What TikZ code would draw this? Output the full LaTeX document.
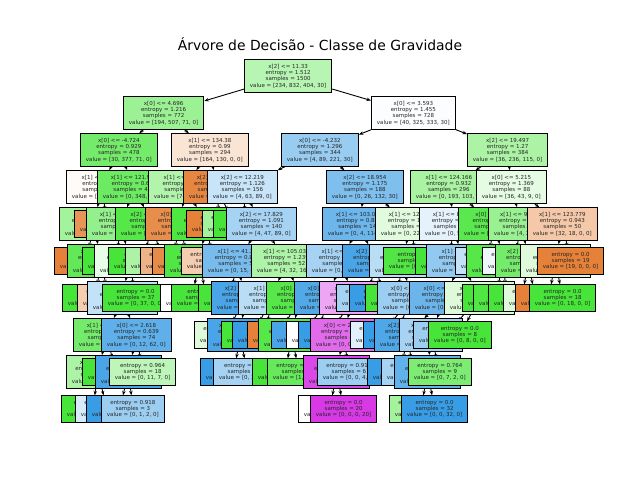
\documentclass[tikz,border=0pt]{standalone}
\usepackage{fontspec}
\setmainfont{DejaVu Sans}
\definecolor{mOrange}{HTML}{E58139}
\definecolor{mGreen}{HTML}{47E539}
\definecolor{mBlue}{HTML}{399DE5}
\definecolor{mViolet}{HTML}{D739E5}
\usepackage{tikz}
\usetikzlibrary{arrows.meta,backgrounds}
\tikzset{
  splitBox/.style={draw=black, line width=0.9pt, anchor=west, align=center,
    inner xsep=5.5pt, inner ysep=4.6pt, text=black!85, font=\fontsize{5.5}{6.2}\selectfont},
  treeArrow/.style={-{Stealth[length=4.5pt,width=3.4pt]}, line width=0.9pt},
  chartTitle/.style={anchor=base, font=\fontsize{13.9}{16}\selectfont}
}
\begin{document}
\begin{tikzpicture}[x=1pt, y=-1pt]
\useasboundingbox (0,0) rectangle (640,480);
\node[chartTitle] (title) at (320,50) {Árvore de Decisão - Classe de Gravidade};
% depth 0 - 2
\node[splitBox, fill=mGreen!39] (d0a) at (244,76) {x[2] <= 11.33\\entropy = 1.512\\samples = 1500\\value = [234, 832, 404, 30]};
\node[splitBox, fill=mGreen!54] (d1a) at (123,113) {x[0] <= 4.696\\entropy = 1.216\\samples = 772\\value = [194, 507, 71, 0]};
\node[splitBox, fill=mBlue!2] (d1b) at (371,113) {x[0] <= 3.593\\entropy = 1.455\\samples = 728\\value = [40, 325, 333, 30]};
\node[splitBox, fill=mGreen!75] (d2a) at (80,150) {x[0] <= -4.724\\entropy = 0.929\\samples = 478\\value = [30, 377, 71, 0]};
\node[splitBox, fill=mOrange!21] (d2b) at (171,150) {x[1] <= 134.38\\entropy = 0.99\\samples = 294\\value = [164, 130, 0, 0]};
\node[splitBox, fill=mBlue!52] (d2c) at (281,150) {x[0] <= -4.232\\entropy = 1.296\\samples = 344\\value = [4, 89, 221, 30]};
\node[splitBox, fill=mGreen!45] (d2d) at (467,150) {x[2] <= 19.497\\entropy = 1.27\\samples = 384\\value = [36, 236, 115, 0]};
% depth 3
\node[splitBox, fill=mOrange!3] (d3a) at (66,187) {x[1] <= 93.25\\entropy = 1.0\\samples = 59\\value = [30, 29, 0, 0]};
\node[splitBox, fill=mGreen!80] (d3b) at (97,187) {x[1] <= 121.906\\entropy = 0.656\\samples = 419\\value = [0, 348, 71, 0]};
\node[splitBox, fill=mGreen!42] (d3c) at (148,187) {x[1] <= 102.51\\entropy = 0.948\\samples = 202\\value = [74, 128, 0, 0]};
\node[splitBox, fill=mOrange!96] (d3d) at (183,187) {x[2] <= 6.742\\entropy = 0.151\\samples = 92\\value = [90, 2, 0, 0]};
\node[splitBox, fill=mBlue!28] (d3e) at (207,187) {x[2] <= 12.219\\entropy = 1.126\\samples = 156\\value = [4, 63, 89, 0]};
\node[splitBox, fill=mBlue!65] (d3f) at (326,187) {x[2] <= 18.954\\entropy = 1.175\\samples = 188\\value = [0, 26, 132, 30]};
\node[splitBox, fill=mGreen!47] (d3g) at (410,187) {x[1] <= 124.166\\entropy = 0.932\\samples = 296\\value = [0, 193, 103, 0]};
\node[splitBox, fill=mGreen!14] (d3h) at (476,187) {x[0] <= 5.215\\entropy = 1.369\\samples = 88\\value = [36, 43, 9, 0]};
% depth 4
\node[splitBox, fill=mGreen!50] (d4a) at (59,224) {x[0] <= -6.104\\entropy = 0.863\\samples = 35\\value = [10, 25, 0, 0]};
\node[splitBox, fill=mOrange!85] (d4b) at (74,224) {entropy = 0.65\\samples = 24\\value = [20, 4, 0, 0]};
\node[splitBox, fill=mGreen!58] (d4c) at (86,224) {x[1] <= 98.217\\entropy = 0.943\\samples = 125\\value = [0, 80, 45, 0]};
\node[splitBox, fill=mGreen!92] (d4d) at (115,224) {x[2] <= 10.835\\entropy = 0.431\\samples = 294\\value = [0, 268, 26, 0]};
\node[splitBox, fill=mOrange!90] (d4e) at (145,224) {x[0] <= 1.352\\entropy = 0.764\\samples = 90\\value = [70, 20, 0, 0]};
\node[splitBox, fill=mGreen!96] (d4f) at (171,224) {x[0] <= -2.817\\entropy = 0.222\\samples = 112\\value = [4, 108, 0, 0]};
\node[splitBox, fill=mOrange] (d4g) at (186,224) {entropy = 0.0\\samples = 89\\value = [89, 0, 0, 0]};
\node[splitBox, fill=mGreen!50] (d4h) at (202,224) {entropy = 0.918\\samples = 3\\value = [1, 2, 0, 0]};
\node[splitBox, fill=mGreen] (d4i) at (213,224) {entropy = 0.0\\samples = 16\\value = [0, 16, 0, 0]};
\node[splitBox, fill=mBlue!45] (d4j) at (226,224) {x[2] <= 17.829\\entropy = 1.091\\samples = 140\\value = [4, 47, 89, 0]};
\node[splitBox, fill=mBlue!74] (d4k) at (322,224) {x[1] <= 103.012\\entropy = 0.881\\samples = 145\\value = [0, 4, 114, 27]};
\node[splitBox, fill=mGreen!16] (d4l) at (375,224) {x[1] <= 128.44\\entropy = 1.274\\samples = 43\\value = [0, 22, 18, 3]};
\node[splitBox, fill=mBlue!13] (d4m) at (419,224) {x[1] <= 86.503\\entropy = 0.996\\samples = 125\\value = [0, 58, 67, 0]};
\node[splitBox, fill=mGreen!90] (d4n) at (458,224) {x[0] <= 4.021\\entropy = 0.743\\samples = 171\\value = [0, 135, 36, 0]};
\node[splitBox, fill=mGreen!55] (d4o) at (488,224) {x[1] <= 96.337\\entropy = 1.275\\samples = 38\\value = [4, 25, 9, 0]};
\node[splitBox, fill=mOrange!44] (d4p) at (527,224) {x[1] <= 123.779\\entropy = 0.943\\samples = 50\\value = [32, 18, 0, 0]};
% depth 5
\node[splitBox, fill=mOrange] (d5a) at (54,261) {entropy = 0.0\\samples = 9\\value = [9, 0, 0, 0]};
\node[splitBox, fill=mGreen!85] (d5b) at (67,261) {x[2] <= 8.116\\entropy = 0.235\\samples = 26\\value = [1, 25, 0, 0]};
\node[splitBox, fill=mGreen] (d5c) at (82,261) {entropy = 0.0\\samples = 30\\value = [0, 30, 0, 0]};
\node[splitBox, fill=mGreen!12] (d5d) at (94,261) {x[0] <= 0.731\\entropy = 0.998\\samples = 95\\value = [0, 50, 45, 0]};
\node[splitBox, fill=mGreen] (d5e) at (108,261) {entropy = 0.0\\samples = 150\\value = [0, 150, 0, 0]};
\node[splitBox, fill=mGreen!45] (d5f) at (125,261) {entropy = 0.685\\samples = 144\\value = [0, 118, 26, 0]};
\node[splitBox, fill=mOrange!60] (d5g) at (140,261) {entropy = 0.811\\samples = 8\\value = [6, 2, 0, 0]};
\node[splitBox, fill=mOrange!92] (d5h) at (152,261) {entropy = 0.759\\samples = 82\\value = [64, 18, 0, 0]};
\node[splitBox, fill=mGreen!95] (d5i) at (164,261) {x[1] <= 88.19\\entropy = 0.084\\samples = 106\\value = [1, 105, 0, 0]};
\node[splitBox, fill=mOrange!40] (d5j) at (181,261) {entropy = 0.918\\samples = 6\\value = [4, 2, 0, 0]};
\node[splitBox, fill=mBlue!68] (d5k) at (202,261) {x[1] <= 41.25\\entropy = 0.825\\samples = 58\\value = [0, 15, 43, 0]};
\node[splitBox, fill=mGreen!44] (d5l) at (251,261) {x[1] <= 105.036\\entropy = 1.239\\samples = 52\\value = [4, 32, 16, 0]};
\node[splitBox, fill=mBlue!45] (d5m) at (306,261) {x[1] <= 88.64\\entropy = 1.241\\samples = 62\\value = [0, 3, 38, 21]};
\node[splitBox, fill=mBlue!92] (d5n) at (342,261) {x[2] <= 21.37\\entropy = 0.545\\samples = 83\\value = [0, 1, 76, 6]};
\node[splitBox, fill=mBlue!35] (d5o) at (369,261) {x[0] <= -1.28\\entropy = 0.592\\samples = 21\\value = [0, 0, 18, 3]};
\node[splitBox, fill=mGreen!95] (d5p) at (383,261) {entropy = 0.0\\samples = 22\\value = [0, 22, 0, 0]};
\node[splitBox, fill=mGreen] (d5q) at (415,261) {entropy = 0.0\\samples = 41\\value = [0, 41, 0, 0]};
\node[splitBox, fill=mBlue!55] (d5r) at (426,261) {x[1] <= 71.82\\entropy = 0.728\\samples = 84\\value = [0, 17, 67, 0]};
\node[splitBox, fill=mBlue!30] (d5s) at (455,261) {entropy = 0.971\\samples = 10\\value = [0, 4, 6, 0]};
\node[splitBox, fill=mGreen!92] (d5t) at (466,261) {x[2] <= 20.42\\entropy = 0.646\\samples = 161\\value = [0, 131, 30, 0]};
\node[splitBox, fill=mBlue!8] (d5u) at (482,261) {entropy = 0.991\\samples = 9\\value = [0, 4, 5, 0]};
\node[splitBox, fill=mGreen!75] (d5v) at (495,261) {x[2] <= 22.905\\entropy = 0.896\\samples = 29\\value = [4, 21, 4, 0]};
\node[splitBox, fill=mGreen!18] (d5w) at (520,261) {x[0] <= 6.88\\entropy = 0.981\\samples = 31\\value = [13, 18, 0, 0]};
\node[splitBox, fill=mOrange] (d5x) at (537,261) {entropy = 0.0\\samples = 19\\value = [19, 0, 0, 0]};
% depth 6
\node[splitBox, fill=mGreen] (d6a) at (62,298) {entropy = 0.0\\samples = 25\\value = [0, 25, 0, 0]};
\node[splitBox, fill=mOrange!40] (d6b) at (77,298) {entropy = 0.918\\samples = 3\\value = [2, 1, 0, 0]};
\node[splitBox, fill=mBlue!30] (d6c) at (87,298) {x[2] <= 9.421\\entropy = 0.929\\samples = 58\\value = [0, 20, 38, 0]};
\node[splitBox, fill=mGreen] (d6d) at (102,298) {entropy = 0.0\\samples = 37\\value = [0, 37, 0, 0]};
\node[splitBox, fill=white] (d6e) at (160,298) {entropy = 1.0\\samples = 2\\value = [1, 1, 0, 0]};
\node[splitBox, fill=mGreen] (d6f) at (171,298) {entropy = 0.0\\samples = 104\\value = [0, 104, 0, 0]};
\node[splitBox, fill=mGreen] (d6g) at (198,298) {entropy = 0.0\\samples = 7\\value = [0, 7, 0, 0]};
\node[splitBox, fill=mBlue!92] (d6h) at (211,298) {x[2] <= 14.58\\entropy = 0.627\\samples = 51\\value = [0, 8, 43, 0]};
\node[splitBox, fill=mBlue!35] (d6i) at (238,298) {x[1] <= 97.4\\entropy = 1.281\\samples = 25\\value = [3, 7, 15, 0]};
\node[splitBox, fill=mGreen!92] (d6j) at (266,298) {x[0] <= -0.56\\entropy = 0.629\\samples = 27\\value = [1, 25, 1, 0]};
\node[splitBox, fill=mBlue!88] (d6k) at (294,298) {x[0] <= 1.076\\entropy = 0.702\\samples = 37\\value = [0, 2, 34, 1]};
\node[splitBox, fill=mViolet!45] (d6l) at (319,298) {x[2] <= 24.1\\entropy = 0.918\\samples = 25\\value = [0, 1, 4, 20]};
\node[splitBox, fill=mBlue!45] (d6m) at (336,298) {entropy = 0.918\\samples = 3\\value = [0, 1, 2, 0]};
\node[splitBox, fill=mBlue] (d6n) at (349,298) {entropy = 0.0\\samples = 40\\value = [0, 0, 40, 0]};
\node[splitBox, fill=mGreen] (d6o) at (365,298) {entropy = 0.0\\samples = 5\\value = [0, 5, 0, 0]};
\node[splitBox, fill=mBlue!50] (d6p) at (377,298) {x[0] <= 0.945\\entropy = 0.985\\samples = 21\\value = [0, 0, 12, 9]};
\node[splitBox, fill=mBlue!75] (d6q) at (409,298) {x[0] <= -2.364\\entropy = 0.695\\samples = 59\\value = [0, 11, 48, 0]};
\node[splitBox, fill=mGreen!18] (d6r) at (444,298) {x[1] <= 78.03\\entropy = 0.943\\samples = 25\\value = [0, 14, 11, 0]};
\node[splitBox, fill=mGreen] (d6s) at (462,298) {entropy = 0.0\\samples = 96\\value = [0, 96, 0, 0]};
\node[splitBox, fill=mGreen!95] (d6t) at (473,298) {entropy = 0.0\\samples = 35\\value = [0, 35, 0, 0]};
\node[splitBox, fill=mGreen] (d6u) at (488,298) {entropy = 0.0\\samples = 14\\value = [0, 14, 0, 0]};
\node[splitBox, fill=mGreen!18] (d6v) at (503,298) {entropy = 1.362\\samples = 15\\value = [4, 7, 4, 0]};
\node[splitBox, fill=mOrange] (d6w) at (515,298) {entropy = 0.0\\samples = 13\\value = [13, 0, 0, 0]};
\node[splitBox, fill=mGreen] (d6x) at (529,298) {entropy = 0.0\\samples = 18\\value = [0, 18, 0, 0]};
% depth 7
\node[splitBox, fill=mGreen!75] (d7a) at (73,335) {x[1] <= 77.95\\entropy = 0.811\\samples = 20\\value = [0, 15, 5, 0]};
\node[splitBox, fill=mBlue!81] (d7b) at (101,335) {x[0] <= 2.618\\entropy = 0.639\\samples = 74\\value = [0, 12, 62, 0]};
\node[splitBox, fill=mGreen!18] (d7c) at (194,335) {entropy = 0.985\\samples = 7\\value = [0, 4, 3, 0]};
\node[splitBox, fill=mBlue!92] (d7d) at (207,335) {x[2] <= 15.903\\entropy = 0.439\\samples = 44\\value = [0, 4, 40, 0]};
\node[splitBox, fill=mGreen] (d7e) at (221,335) {entropy = 0.0\\samples = 6\\value = [0, 6, 0, 0]};
\node[splitBox, fill=mBlue] (d7f) at (232,335) {entropy = 0.0\\samples = 12\\value = [0, 0, 12, 0]};
\node[splitBox, fill=mOrange] (d7g) at (247,335) {entropy = 0.0\\samples = 1\\value = [1, 0, 0, 0]};
\node[splitBox, fill=mGreen!92] (d7h) at (258,335) {x[1] <= 113.8\\entropy = 0.235\\samples = 26\\value = [0, 25, 1, 0]};
\node[splitBox, fill=mBlue!92] (d7i) at (271,335) {entropy = 0.0\\samples = 30\\value = [0, 0, 30, 0]};
\node[splitBox, fill=white] (d7j) at (286,335) {entropy = 1.0\\samples = 2\\value = [0, 1, 1, 0]};
\node[splitBox, fill=mBlue] (d7k) at (298,335) {entropy = 0.0\\samples = 4\\value = [0, 0, 4, 0]};
\node[splitBox, fill=mViolet!75] (d7l) at (310,335) {x[0] <= 2.964\\entropy = 0.557\\samples = 23\\value = [0, 0, 3, 20]};
\node[splitBox, fill=mBlue!15] (d7m) at (350,335) {entropy = 0.991\\samples = 9\\value = [0, 0, 5, 4]};
\node[splitBox, fill=mBlue] (d7n) at (363,335) {entropy = 0.0\\samples = 12\\value = [0, 0, 12, 0]};
\node[splitBox, fill=mBlue!90] (d7o) at (374,335) {x[2] <= 13.77\\entropy = 0.414\\samples = 48\\value = [0, 4, 44, 0]};
\node[splitBox, fill=mBlue!45] (d7p) at (399,335) {x[1] <= 64.18\\entropy = 0.946\\samples = 11\\value = [0, 4, 7, 0]};
\node[splitBox, fill=mBlue!50] (d7q) at (413,335) {entropy = 0.918\\samples = 3\\value = [0, 1, 2, 0]};
\node[splitBox, fill=mGreen] (d7r) at (428,335) {entropy = 0.0\\samples = 8\\value = [0, 8, 0, 0]};
% depth 8
\node[splitBox, fill=mGreen!45] (d8a) at (66,372) {x[2] <= 7.31\\entropy = 0.863\\samples = 7\\value = [0, 5, 2, 0]};
\node[splitBox, fill=mGreen] (d8b) at (82,372) {entropy = 0.0\\samples = 13\\value = [0, 13, 0, 0]};
\node[splitBox, fill=mBlue!92] (d8c) at (95,372) {x[1] <= 69.35\\entropy = 0.131\\samples = 56\\value = [0, 1, 55, 0]};
\node[splitBox, fill=mGreen!36] (d8d) at (109,372) {entropy = 0.964\\samples = 18\\value = [0, 11, 7, 0]};
\node[splitBox, fill=mBlue] (d8e) at (200,372) {entropy = 0.0\\samples = 31\\value = [0, 0, 31, 0]};
\node[splitBox, fill=mBlue!45] (d8f) at (213,372) {entropy = 0.779\\samples = 13\\value = [0, 3, 10, 0]};
\node[splitBox, fill=mGreen] (d8g) at (252,372) {entropy = 0.0\\samples = 19\\value = [0, 19, 0, 0]};
\node[splitBox, fill=mGreen!83] (d8h) at (267,372) {entropy = 0.592\\samples = 7\\value = [1, 6, 0, 0]};
\node[splitBox, fill=mViolet!92] (d8i) at (303,372) {x[1] <= 58.07\\entropy = 0.276\\samples = 21\\value = [0, 0, 1, 20]};
\node[splitBox, fill=mBlue!50] (d8j) at (317,372) {entropy = 0.918\\samples = 6\\value = [0, 0, 4, 2]};
\node[splitBox, fill=mBlue] (d8k) at (367,372) {entropy = 0.0\\samples = 43\\value = [0, 0, 43, 0]};
\node[splitBox, fill=mBlue!45] (d8l) at (381,372) {entropy = 0.971\\samples = 5\\value = [0, 2, 3, 0]};
\node[splitBox, fill=mBlue!80] (d8m) at (394,372) {x[2] <= 16.22\\entropy = 0.196\\samples = 33\\value = [0, 1, 32, 0]};
\node[splitBox, fill=mGreen!71] (d8n) at (408,372) {entropy = 0.764\\samples = 9\\value = [0, 7, 2, 0]};
% depth 9
\node[splitBox, fill=mGreen] (d9a) at (61,409) {entropy = 0.0\\samples = 4\\value = [0, 4, 0, 0]};
\node[splitBox, fill=mBlue!20] (d9b) at (75,409) {entropy = 0.971\\samples = 5\\value = [0, 2, 3, 0]};
\node[splitBox, fill=mBlue] (d9c) at (86,409) {entropy = 0.0\\samples = 53\\value = [0, 0, 53, 0]};
\node[splitBox, fill=mBlue!50] (d9d) at (101,409) {entropy = 0.918\\samples = 3\\value = [0, 1, 2, 0]};
\node[splitBox, fill=white] (d9e) at (298,409) {entropy = 1.0\\samples = 2\\value = [0, 0, 1, 1]};
\node[splitBox, fill=mViolet] (d9f) at (310,409) {entropy = 0.0\\samples = 20\\value = [0, 0, 0, 20]};
\node[splitBox, fill=mGreen!50] (d9g) at (389,409) {entropy = 0.918\\samples = 3\\value = [0, 2, 1, 0]};
\node[splitBox, fill=mBlue] (d9h) at (401,409) {entropy = 0.0\\samples = 32\\value = [0, 0, 32, 0]};
% arrows behind the boxes
\begin{pgfonlayer}{background}
\fill[white] (0,0) rectangle (640,480);
\foreach \p/\c in {d0a/d1a, d0a/d1b, d1a/d2a, d1a/d2b, d1b/d2c, d1b/d2d,
  d2a/d3a, d2a/d3b, d2b/d3c, d2b/d3d, d2c/d3e, d2c/d3f, d2d/d3g, d2d/d3h,
  d3a/d4a, d3a/d4b, d3b/d4c, d3b/d4d, d3c/d4e, d3c/d4f, d3d/d4g, d3d/d4h,
  d3e/d4i, d3e/d4j, d3f/d4k, d3f/d4l, d3g/d4m, d3g/d4n, d3h/d4o, d3h/d4p,
  d4a/d5a, d4a/d5b, d4c/d5c, d4c/d5d, d4d/d5e, d4d/d5f, d4e/d5g, d4e/d5h,
  d4f/d5i, d4f/d5j, d4j/d5k, d4j/d5l, d4k/d5m, d4k/d5n, d4l/d5o, d4l/d5p,
  d4m/d5q, d4m/d5r, d4n/d5s, d4n/d5t, d4o/d5u, d4o/d5v, d4p/d5w, d4p/d5x,
  d5b/d6a, d5b/d6b, d5d/d6c, d5d/d6d, d5i/d6e, d5i/d6f, d5k/d6g, d5k/d6h,
  d5l/d6i, d5l/d6j, d5m/d6k, d5m/d6l, d5n/d6m, d5n/d6n, d5o/d6o, d5o/d6p,
  d5r/d6q, d5r/d6r, d5t/d6s, d5t/d6t, d5v/d6u, d5v/d6v, d5w/d6w, d5w/d6x,
  d6c/d7a, d6c/d7b, d6h/d7c, d6h/d7d, d6i/d7e, d6i/d7f, d6j/d7g, d6j/d7h,
  d6k/d7i, d6k/d7j, d6l/d7k, d6l/d7l, d6p/d7m, d6p/d7n, d6q/d7o, d6q/d7p,
  d6r/d7q, d6r/d7r, d7a/d8a, d7a/d8b, d7b/d8c, d7b/d8d, d7d/d8e, d7d/d8f,
  d7h/d8g, d7h/d8h, d7l/d8i, d7l/d8j, d7o/d8k, d7o/d8l, d7p/d8m, d7p/d8n,
  d8a/d9a, d8a/d9b, d8c/d9c, d8c/d9d, d8i/d9e, d8i/d9f, d8m/d9g, d8m/d9h}
  \draw[treeArrow] (\p) -- (\c);
\end{pgfonlayer}
\end{tikzpicture}
\end{document}
